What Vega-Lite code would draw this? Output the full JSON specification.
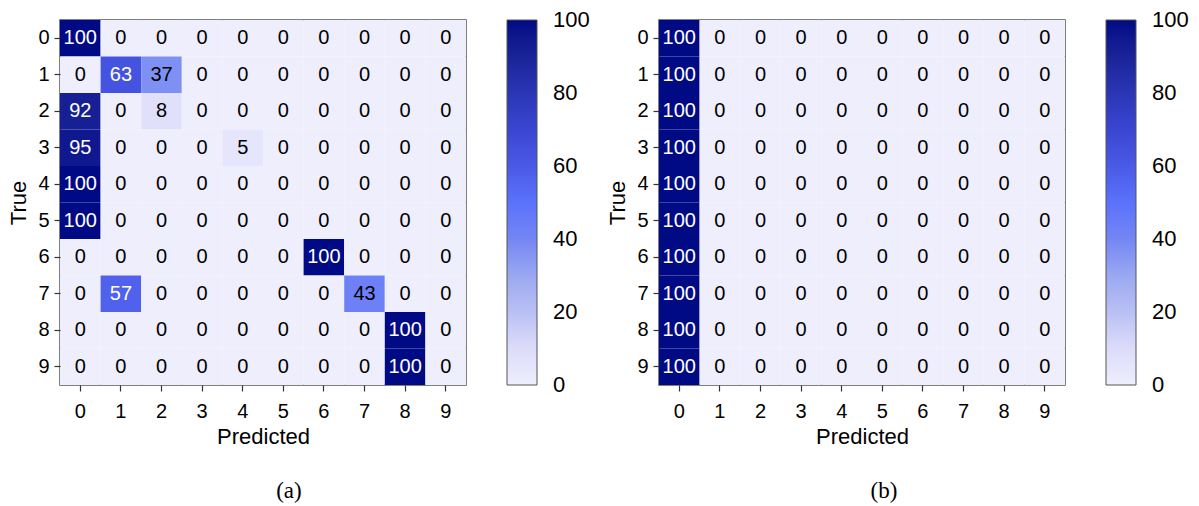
{
  "$schema": "https://vega.github.io/schema/vega-lite/v6.json",
  "background": "white",
  "padding": {"left": 7, "top": 19, "right": 0, "bottom": 0},
  "datasets": {
    "a": [
      {"t":0,"p":0,"v":100},{"t":0,"p":1,"v":0},{"t":0,"p":2,"v":0},{"t":0,"p":3,"v":0},{"t":0,"p":4,"v":0},{"t":0,"p":5,"v":0},{"t":0,"p":6,"v":0},{"t":0,"p":7,"v":0},{"t":0,"p":8,"v":0},{"t":0,"p":9,"v":0},
      {"t":1,"p":0,"v":0},{"t":1,"p":1,"v":63},{"t":1,"p":2,"v":37},{"t":1,"p":3,"v":0},{"t":1,"p":4,"v":0},{"t":1,"p":5,"v":0},{"t":1,"p":6,"v":0},{"t":1,"p":7,"v":0},{"t":1,"p":8,"v":0},{"t":1,"p":9,"v":0},
      {"t":2,"p":0,"v":92},{"t":2,"p":1,"v":0},{"t":2,"p":2,"v":8},{"t":2,"p":3,"v":0},{"t":2,"p":4,"v":0},{"t":2,"p":5,"v":0},{"t":2,"p":6,"v":0},{"t":2,"p":7,"v":0},{"t":2,"p":8,"v":0},{"t":2,"p":9,"v":0},
      {"t":3,"p":0,"v":95},{"t":3,"p":1,"v":0},{"t":3,"p":2,"v":0},{"t":3,"p":3,"v":0},{"t":3,"p":4,"v":5},{"t":3,"p":5,"v":0},{"t":3,"p":6,"v":0},{"t":3,"p":7,"v":0},{"t":3,"p":8,"v":0},{"t":3,"p":9,"v":0},
      {"t":4,"p":0,"v":100},{"t":4,"p":1,"v":0},{"t":4,"p":2,"v":0},{"t":4,"p":3,"v":0},{"t":4,"p":4,"v":0},{"t":4,"p":5,"v":0},{"t":4,"p":6,"v":0},{"t":4,"p":7,"v":0},{"t":4,"p":8,"v":0},{"t":4,"p":9,"v":0},
      {"t":5,"p":0,"v":100},{"t":5,"p":1,"v":0},{"t":5,"p":2,"v":0},{"t":5,"p":3,"v":0},{"t":5,"p":4,"v":0},{"t":5,"p":5,"v":0},{"t":5,"p":6,"v":0},{"t":5,"p":7,"v":0},{"t":5,"p":8,"v":0},{"t":5,"p":9,"v":0},
      {"t":6,"p":0,"v":0},{"t":6,"p":1,"v":0},{"t":6,"p":2,"v":0},{"t":6,"p":3,"v":0},{"t":6,"p":4,"v":0},{"t":6,"p":5,"v":0},{"t":6,"p":6,"v":100},{"t":6,"p":7,"v":0},{"t":6,"p":8,"v":0},{"t":6,"p":9,"v":0},
      {"t":7,"p":0,"v":0},{"t":7,"p":1,"v":57},{"t":7,"p":2,"v":0},{"t":7,"p":3,"v":0},{"t":7,"p":4,"v":0},{"t":7,"p":5,"v":0},{"t":7,"p":6,"v":0},{"t":7,"p":7,"v":43},{"t":7,"p":8,"v":0},{"t":7,"p":9,"v":0},
      {"t":8,"p":0,"v":0},{"t":8,"p":1,"v":0},{"t":8,"p":2,"v":0},{"t":8,"p":3,"v":0},{"t":8,"p":4,"v":0},{"t":8,"p":5,"v":0},{"t":8,"p":6,"v":0},{"t":8,"p":7,"v":0},{"t":8,"p":8,"v":100},{"t":8,"p":9,"v":0},
      {"t":9,"p":0,"v":0},{"t":9,"p":1,"v":0},{"t":9,"p":2,"v":0},{"t":9,"p":3,"v":0},{"t":9,"p":4,"v":0},{"t":9,"p":5,"v":0},{"t":9,"p":6,"v":0},{"t":9,"p":7,"v":0},{"t":9,"p":8,"v":100},{"t":9,"p":9,"v":0}
    ],
    "b": [
      {"t":0,"p":0,"v":100},{"t":0,"p":1,"v":0},{"t":0,"p":2,"v":0},{"t":0,"p":3,"v":0},{"t":0,"p":4,"v":0},{"t":0,"p":5,"v":0},{"t":0,"p":6,"v":0},{"t":0,"p":7,"v":0},{"t":0,"p":8,"v":0},{"t":0,"p":9,"v":0},
      {"t":1,"p":0,"v":100},{"t":1,"p":1,"v":0},{"t":1,"p":2,"v":0},{"t":1,"p":3,"v":0},{"t":1,"p":4,"v":0},{"t":1,"p":5,"v":0},{"t":1,"p":6,"v":0},{"t":1,"p":7,"v":0},{"t":1,"p":8,"v":0},{"t":1,"p":9,"v":0},
      {"t":2,"p":0,"v":100},{"t":2,"p":1,"v":0},{"t":2,"p":2,"v":0},{"t":2,"p":3,"v":0},{"t":2,"p":4,"v":0},{"t":2,"p":5,"v":0},{"t":2,"p":6,"v":0},{"t":2,"p":7,"v":0},{"t":2,"p":8,"v":0},{"t":2,"p":9,"v":0},
      {"t":3,"p":0,"v":100},{"t":3,"p":1,"v":0},{"t":3,"p":2,"v":0},{"t":3,"p":3,"v":0},{"t":3,"p":4,"v":0},{"t":3,"p":5,"v":0},{"t":3,"p":6,"v":0},{"t":3,"p":7,"v":0},{"t":3,"p":8,"v":0},{"t":3,"p":9,"v":0},
      {"t":4,"p":0,"v":100},{"t":4,"p":1,"v":0},{"t":4,"p":2,"v":0},{"t":4,"p":3,"v":0},{"t":4,"p":4,"v":0},{"t":4,"p":5,"v":0},{"t":4,"p":6,"v":0},{"t":4,"p":7,"v":0},{"t":4,"p":8,"v":0},{"t":4,"p":9,"v":0},
      {"t":5,"p":0,"v":100},{"t":5,"p":1,"v":0},{"t":5,"p":2,"v":0},{"t":5,"p":3,"v":0},{"t":5,"p":4,"v":0},{"t":5,"p":5,"v":0},{"t":5,"p":6,"v":0},{"t":5,"p":7,"v":0},{"t":5,"p":8,"v":0},{"t":5,"p":9,"v":0},
      {"t":6,"p":0,"v":100},{"t":6,"p":1,"v":0},{"t":6,"p":2,"v":0},{"t":6,"p":3,"v":0},{"t":6,"p":4,"v":0},{"t":6,"p":5,"v":0},{"t":6,"p":6,"v":0},{"t":6,"p":7,"v":0},{"t":6,"p":8,"v":0},{"t":6,"p":9,"v":0},
      {"t":7,"p":0,"v":100},{"t":7,"p":1,"v":0},{"t":7,"p":2,"v":0},{"t":7,"p":3,"v":0},{"t":7,"p":4,"v":0},{"t":7,"p":5,"v":0},{"t":7,"p":6,"v":0},{"t":7,"p":7,"v":0},{"t":7,"p":8,"v":0},{"t":7,"p":9,"v":0},
      {"t":8,"p":0,"v":100},{"t":8,"p":1,"v":0},{"t":8,"p":2,"v":0},{"t":8,"p":3,"v":0},{"t":8,"p":4,"v":0},{"t":8,"p":5,"v":0},{"t":8,"p":6,"v":0},{"t":8,"p":7,"v":0},{"t":8,"p":8,"v":0},{"t":8,"p":9,"v":0},
      {"t":9,"p":0,"v":100},{"t":9,"p":1,"v":0},{"t":9,"p":2,"v":0},{"t":9,"p":3,"v":0},{"t":9,"p":4,"v":0},{"t":9,"p":5,"v":0},{"t":9,"p":6,"v":0},{"t":9,"p":7,"v":0},{"t":9,"p":8,"v":0},{"t":9,"p":9,"v":0}
    ]
  },
  "spacing": 15,
  "resolve": {"scale": {"color": "independent"}, "legend": {"color": "independent"}},
  "hconcat": [
    {
      "width": 406, "height": 365,
      "data": {"name": "a"},
      "title": {"text": "(a)", "orient": "bottom", "anchor": "middle", "frame": "bounds", "dx": -10, "offset": 33, "font": "Liberation Serif", "fontSize": 23, "fontWeight": "normal", "color": "black"},
      "encoding": {
        "x": {"field": "p", "type": "ordinal", "title": "Predicted", "scale": {"paddingInner": 0, "paddingOuter": 0}},
        "y": {"field": "t", "type": "ordinal", "title": "True", "scale": {"paddingInner": 0, "paddingOuter": 0}}
      },
      "layer": [
        {"mark": {"type": "rect"},
         "encoding": {"color": {"field": "v", "type": "quantitative",
           "scale": {"domain": [0,10,20,30,40,50,60,70,80,90,100], "range": ["#eeeefc","#dcdcfa","#b9c0f4","#9aa8f2","#7486f4","#5a72fc","#4a5ae6","#3a46d2","#2a36b4","#1a2498","#000a84"]},
           "legend": {"orient": "right", "direction": "vertical", "offset": 41, "gradientLength": 365, "gradientThickness": 30, "values": [0,20,40,60,80,100], "title": null, "labelFontSize": 22, "labelFont": "Liberation Sans", "labelOffset": 16, "labelColor": "black", "labelOverlap": false, "gradientStrokeColor": "#555", "gradientStrokeWidth": 1,
             "encode": {"labels": {"enter": {"baseline": {"value": "middle"}}, "update": {"baseline": {"value": "middle"}}}}}}}},
        {"mark": {"type": "text", "fontSize": 20, "font": "Liberation Sans"},
         "encoding": {"text": {"field": "v", "type": "quantitative"},
           "color": {"condition": {"test": "datum.v > 50", "value": "white"}, "value": "black"}}}
      ]
    },
    {
      "width": 406, "height": 365,
      "data": {"name": "b"},
      "title": {"text": "(b)", "orient": "bottom", "anchor": "middle", "frame": "bounds", "dx": -14, "offset": 33, "font": "Liberation Serif", "fontSize": 23, "fontWeight": "normal", "color": "black"},
      "encoding": {
        "x": {"field": "p", "type": "ordinal", "title": "Predicted", "scale": {"paddingInner": 0, "paddingOuter": 0}},
        "y": {"field": "t", "type": "ordinal", "title": "True", "scale": {"paddingInner": 0, "paddingOuter": 0}}
      },
      "layer": [
        {"mark": {"type": "rect"},
         "encoding": {"color": {"field": "v", "type": "quantitative",
           "scale": {"domain": [0,10,20,30,40,50,60,70,80,90,100], "range": ["#eeeefc","#dcdcfa","#b9c0f4","#9aa8f2","#7486f4","#5a72fc","#4a5ae6","#3a46d2","#2a36b4","#1a2498","#000a84"]},
           "legend": {"orient": "right", "direction": "vertical", "offset": 41, "gradientLength": 365, "gradientThickness": 30, "values": [0,20,40,60,80,100], "title": null, "labelFontSize": 22, "labelFont": "Liberation Sans", "labelOffset": 16, "labelColor": "black", "labelOverlap": false, "gradientStrokeColor": "#555", "gradientStrokeWidth": 1,
             "encode": {"labels": {"enter": {"baseline": {"value": "middle"}}, "update": {"baseline": {"value": "middle"}}}}}}}},
        {"mark": {"type": "text", "fontSize": 20, "font": "Liberation Sans"},
         "encoding": {"text": {"field": "v", "type": "quantitative"},
           "color": {"condition": {"test": "datum.v > 50", "value": "white"}, "value": "black"}}}
      ]
    }
  ],
  "config": {
    "font": "Liberation Sans",
    "view": {"stroke": "#555", "strokeWidth": 1.5},
    "legend": {"gradientLabelOffset": 16},
    "axis": {"domain": false, "grid": false, "ticks": true, "tickColor": "#333", "tickSize": 6, "tickWidth": 1.2, "labelFontSize": 20, "labelFont": "Liberation Sans", "labelColor": "black", "titleFontSize": 22, "titleFont": "Liberation Sans", "titleFontWeight": "normal", "titleColor": "black"},
    "axisX": {"labelAngle": 0, "labelPadding": 10, "titlePadding": 5},
    "axisY": {"labelPadding": 5, "titlePadding": 7}
  }
}
